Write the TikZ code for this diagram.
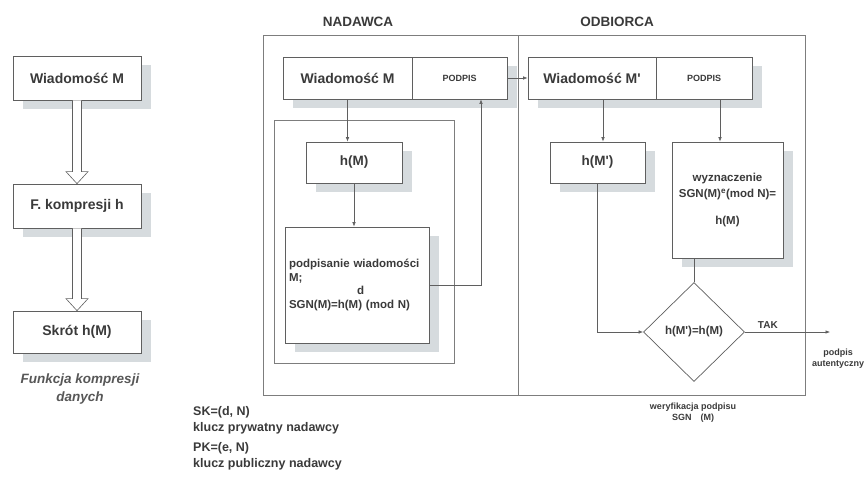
\documentclass[tikz,border=0pt]{standalone}
\usepackage{fontspec}
\setmainfont{Liberation Sans}[Ligatures=TeXOff]
\usetikzlibrary{shapes.geometric,shadows,arrows.meta}

\begin{document}
\begin{tikzpicture}[x=1pt,y=-1pt]
    % Colour palette
    \definecolor{inkgray}{RGB}{58,58,58}
    \definecolor{linegray}{RGB}{95,95,95}
    \definecolor{framegray}{RGB}{125,125,125}
    \definecolor{shadowgray}{RGB}{214,219,222}

    % Styles
    \tikzset{
        box/.style={
            draw=linegray,
            fill=white,
            line width=0.7pt,
            text=inkgray,
            align=center,
            inner sep=3pt,
            font=\fontsize{14}{16}\selectfont\bfseries,
            drop shadow={shadow xshift=10pt, shadow yshift=-9pt, fill=shadowgray, opacity=1}
        },
        slot/.style={
            box,
            font=\fontsize{9}{11}\selectfont\bfseries
        },
        calc box/.style={
            box,
            font=\fontsize{11.5}{13.8}\selectfont\bfseries
        },
        frame/.style={
            draw=framegray,
            line width=0.6pt,
            inner sep=0pt
        },
        decision/.style={
            diamond,
            draw=linegray,
            fill=white,
            line width=0.7pt,
            minimum width=101pt,
            minimum height=99pt,
            inner sep=0pt,
            text=inkgray,
            font=\fontsize{11.5}{13.8}\selectfont\bfseries
        },
        arrow/.style={
            draw=linegray,
            line width=0.6pt,
            -{Latex[length=4.5pt,width=3.5pt]}
        },
        hollow/.style={
            draw=linegray,
            fill=white,
            line width=0.6pt,
            line join=miter
        },
        title/.style={
            text=inkgray,
            font=\fontsize{13.5}{16}\selectfont\bfseries
        },
        note/.style={
            text=inkgray,
            align=left,
            inner sep=0pt,
            font=\fontsize{12.5}{16}\selectfont\bfseries
        },
        small/.style={
            text=inkgray,
            align=center,
            inner sep=0pt,
            font=\fontsize{9}{11}\selectfont\bfseries
        }
    }

    \useasboundingbox (0,0) rectangle (866,487);

    % Compression function column
    \node[box, minimum width=128pt, minimum height=44pt] (wm) at (77,78) {Wiadomość M};
    \node[box, minimum width=128pt, minimum height=44pt] (fk) at (77,206) {F. kompresji h};
    \node[box, minimum width=128pt, minimum height=42pt] (skrot) at (77,332) {Skrót h(M)};
    \node[text=inkgray!85, align=center, font=\fontsize{13.5}{18}\selectfont\bfseries\itshape] (fkcap) at (80,389) {Funkcja kompresji\\danych};

    \draw[hollow] ([xshift=-4.5pt]wm.south) -- ([xshift=-4.5pt,yshift=12pt]fk.north)
        -- ([xshift=-11pt,yshift=12pt]fk.north) -- (fk.north)
        -- ([xshift=11pt,yshift=12pt]fk.north) -- ([xshift=4.5pt,yshift=12pt]fk.north)
        -- ([xshift=4.5pt]wm.south);
    \draw[hollow] ([xshift=-4.5pt]fk.south) -- ([xshift=-4.5pt,yshift=12pt]skrot.north)
        -- ([xshift=-11pt,yshift=12pt]skrot.north) -- (skrot.north)
        -- ([xshift=11pt,yshift=12pt]skrot.north) -- ([xshift=4.5pt,yshift=12pt]skrot.north)
        -- ([xshift=4.5pt]fk.south);

    % Sender and receiver frames
    \node[frame, minimum width=255pt, minimum height=360pt] (nadawca) at (390.5,215) {};
    \node[frame, minimum width=287pt, minimum height=360pt] (odbiorca) at (661.5,215) {};
    \node[title] (tnad) at (358,22) {NADAWCA};
    \node[title] (todb) at (617,22) {ODBIORCA};
    \node[frame, minimum width=180pt, minimum height=243pt] (inner) at (364,241.5) {};

    % Sender side
    \node[box, minimum width=129pt, minimum height=42pt] (msgS) at (347.5,78) {Wiadomość M};
    \node[slot, minimum width=95pt, minimum height=42pt] (sigS) at (459.5,78) {PODPIS};
    \node[box, minimum width=96pt, minimum height=41pt, font=\fontsize{13.5}{16}\selectfont\bfseries] (hM) at (354,162.5) {h(M)};
    \node[calc box, minimum width=144pt, minimum height=116pt, text width=136pt, align=left] (sign) at (357,285)
        {podpisanie wiadomości\\M;\\\hspace*{68pt}d\\SGN(M)=h(M) (mod N)};

    % Receiver side
    \node[box, minimum width=128pt, minimum height=42pt] (msgR) at (592,78) {Wiadomość M'};
    \node[slot, minimum width=96pt, minimum height=42pt] (sigR) at (704,78) {PODPIS};
    \node[box, minimum width=95pt, minimum height=41pt, font=\fontsize{13.5}{16}\selectfont\bfseries] (hR) at (597.5,162.5) {h(M')};
    \node[calc box, minimum width=111pt, minimum height=116pt] (wyz) at (727.5,200)
        {wyznaczenie\\[2pt]SGN(M)\textsuperscript{e}(mod N)=\\[13pt]h(M)};
    \node[decision] (check) at (694,332) {h(M')=h(M)};
    \coordinate (ok) at (830,332);
    \node[small] (auth) at (838,359) {podpis\\autentyczny};
    \node[small] (verif) at (693,413) {weryfikacja podpisu\\SGN\hspace{9pt}(M)};

    % Keys
    \node[note, anchor=west] (sk) at (193,420) {SK=(d, N)\\klucz prywatny nadawcy};
    \node[note, anchor=west] (pk) at (193,456) {PK=(e, N)\\klucz publiczny nadawcy};

    % Sender connections
    \draw[arrow] (msgS.south) -- (msgS.south |- hM.north);
    \draw[arrow] (hM.south) -- (hM.south |- sign.north);
    \draw[arrow] (sign.east) -| ([xshift=21.5pt]sigS.south);
    \draw[arrow] (sigS.east) -- (msgR.west);

    % Receiver connections
    \draw[arrow] ([xshift=11pt]msgR.south) -- ([xshift=5.5pt]hR.north);
    \draw[arrow] ([xshift=16pt]sigR.south) -- ([xshift=-7.5pt]wyz.north);
    \draw[draw=linegray, line width=0.6pt] (wyz.south -| check.north) -- (check.north);
    \draw[arrow] (hR.south) |- (check.west);
    \draw[arrow] (check.east) -- (ok) node[pos=0.27, above=3pt, small, font=\fontsize{10}{12}\selectfont\bfseries] {TAK};

\end{tikzpicture}
\end{document}
